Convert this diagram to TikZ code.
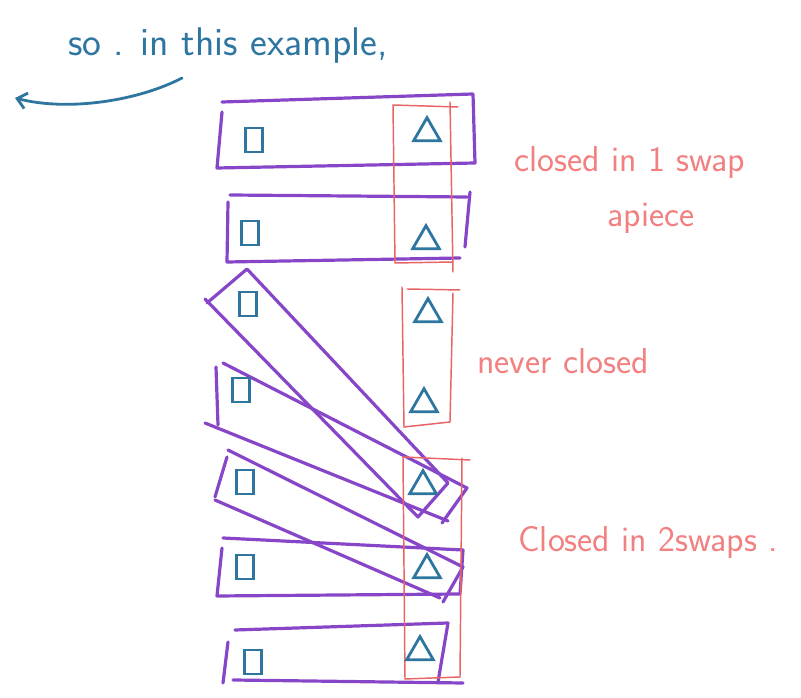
\documentclass[tikz,border=0pt]{standalone}
\usepackage{tikz}
\usetikzlibrary{arrows.meta,shapes.geometric}
\definecolor{penblue}{RGB}{46,118,160}
\definecolor{penpurple}{RGB}{135,70,200}
\definecolor{penred}{RGB}{232,100,100}
\definecolor{pennote}{RGB}{242,128,128}
\tikzstyle{strip}=[draw=penpurple,line width=2.4pt,line cap=round,line join=round]
\tikzstyle{swapbox}=[draw=penred,line width=1.1pt,line cap=round]
\tikzstyle{sqmark}=[draw=penblue,line width=2.1pt,rectangle,minimum width=13pt,minimum height=18pt,inner sep=0pt]
\tikzstyle{trimark}=[draw=penblue,line width=2.1pt,regular polygon,regular polygon sides=3,minimum size=23pt,inner sep=0pt]
\tikzstyle{note}=[text=pennote,font=\sffamily\fontsize{27}{32}\selectfont,inner sep=0pt]

\begin{document}
\begin{tikzpicture}[x=0.75pt,y=-0.75pt]
\useasboundingbox (0,0) rectangle (801,698);
\node [note,text=penblue,font=\sffamily\fontsize{30}{36}\selectfont] (intro) at (228,46) {so . in this example,};
\coordinate (tail) at (182,78);
\coordinate (tip) at (15,98);
\draw [draw=penblue,line width=2.1pt,line cap=round,-{Straight Barb[length=7pt,width=12pt]}] (tail) .. controls (140,100) and (70,112) .. (tip);

\draw [strip] (222,102) -- (473,94) -- (475,163) -- (217,168) -- (222,112);
\draw [strip] (230,195) -- (467,197);
\draw [strip] (228,202) -- (227,262) -- (460,258);
\draw [strip] (470,192) -- (465,247);
\draw [strip] (207,303) -- (247,269) -- (448,483) -- (418,517) -- (205,299);
\draw [strip] (216,367) -- (218,425);
\draw [strip] (223,363) -- (467,488) -- (442,523);
\draw [strip] (205,423) -- (448,521);
\draw [strip] (228,450) -- (463,567) -- (443,602);
\draw [strip] (215,500) -- (440,598);
\draw [strip] (227,457) -- (215,497);
\draw [strip] (223,538) -- (463,550) -- (460,594) -- (217,596) -- (222,548);
\draw [strip] (235,630) -- (448,623) -- (438,682);
\draw [strip] (233,680) -- (463,683);
\draw [strip] (228,642) -- (223,683);

\draw [swapbox] (458,107) -- (393,105) -- (395,263) -- (453,262);
\draw [swapbox] (450,102) -- (453,272);
\draw [swapbox] (402,287) -- (404,427) -- (450,422) -- (453,293);
\draw [swapbox] (407,289) -- (460,290);
\draw [swapbox] (470,460) -- (403,457) -- (405,679) -- (460,677) -- (462,458);

\node [sqmark] (sq1) at (254,140) {};
\node [sqmark] (sq2) at (250,233) {};
\node [sqmark] (sq3) at (248,304) {};
\node [sqmark] (sq4) at (241,390) {};
\node [sqmark] (sq5) at (245,482) {};
\node [sqmark] (sq6) at (245,567) {};
\node [sqmark] (sq7) at (253,662) {};
\node [trimark] (tr1) at (427,133) {};
\node [trimark] (tr2) at (426,241) {};
\node [trimark] (tr3) at (428,314) {};
\node [trimark] (tr4) at (424,404) {};
\node [trimark] (tr5) at (423,486) {};
\node [trimark] (tr6) at (427,570) {};
\node [trimark] (tr7) at (420,652) {};

\node [note] (oneswap) at (630,163) {closed in 1 swap};
\node [note] (apiece) at (651,218) {apiece};
\node [note] (never) at (563,361) {never closed};
\node [note] (twoswap) at (648,543) {Closed in 2swaps .};
\end{tikzpicture}
\end{document}
